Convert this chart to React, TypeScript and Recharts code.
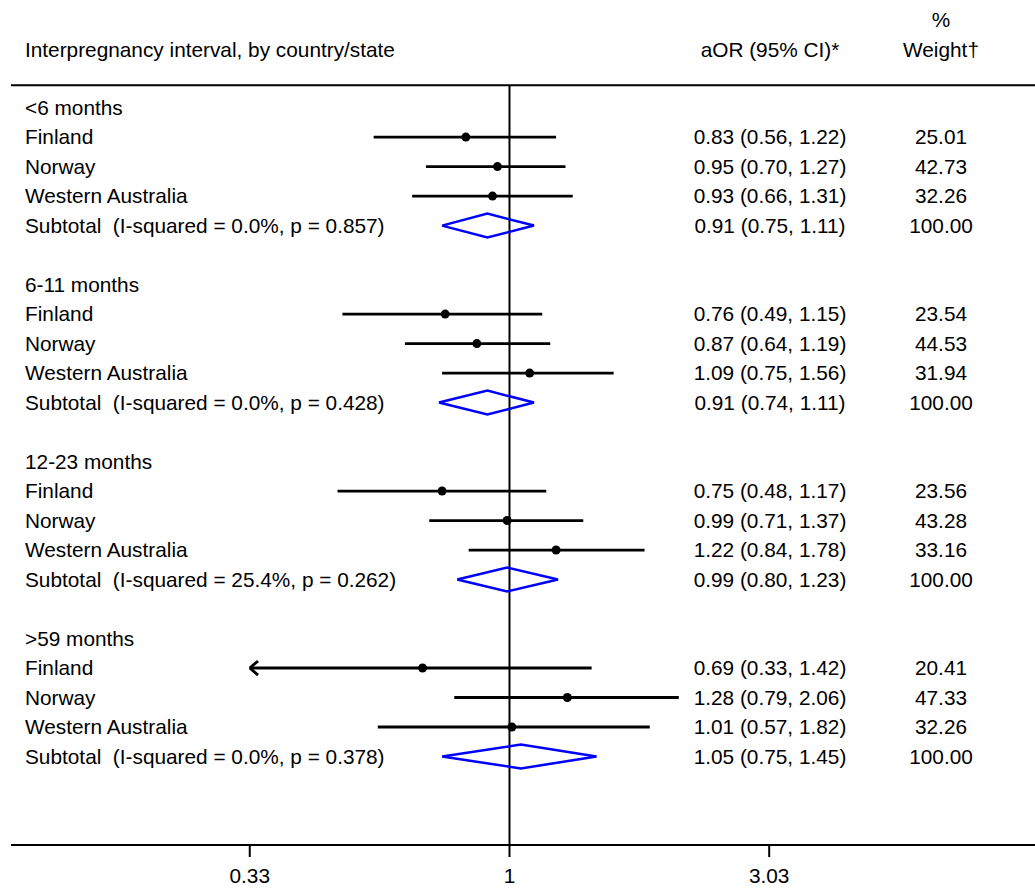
import { ComposedChart, XAxis, YAxis, Scatter, ReferenceLine } from "recharts";

const groups = ["<6 months", "6-11 months", "12-23 months", ">59 months"];
const studies = ["Finland", "Norway", "Western Australia"];

const studyAor = [
  [0.83, 0.95, 0.93],
  [0.76, 0.87, 1.09],
  [0.75, 0.99, 1.22],
  [0.69, 1.28, 1.01],
];
const studyLower = [
  [0.56, 0.7, 0.66],
  [0.49, 0.64, 0.75],
  [0.48, 0.71, 0.84],
  [0.33, 0.79, 0.57],
];
const studyUpper = [
  [1.22, 1.27, 1.31],
  [1.15, 1.19, 1.56],
  [1.17, 1.37, 1.78],
  [1.42, 2.06, 1.82],
];
const studyWeight = [
  ["25.01", "42.73", "32.26"],
  ["23.54", "44.53", "31.94"],
  ["23.56", "43.28", "33.16"],
  ["20.41", "47.33", "32.26"],
];

const subtotalAor = [0.91, 0.91, 0.99, 1.05];
const subtotalLower = [0.75, 0.74, 0.8, 0.75];
const subtotalUpper = [1.11, 1.11, 1.23, 1.45];
const heterogeneity = [
  "I-squared = 0.0%, p = 0.857",
  "I-squared = 0.0%, p = 0.428",
  "I-squared = 25.4%, p = 0.262",
  "I-squared = 0.0%, p = 0.378",
];

const xTicks = [0.33, 1, 3.03];

// layout (rows are in "row units", one per printed line)
const X_DOMAIN = [0.1191, 9.423];
const Y_DOMAIN = [-3.648, 25];
const HEADER_LINE_ROW = -0.76;
const DIAMOND_HALF = 0.405;
const ARROW_DX = 1.036;
const ARROW_DY = 0.24;
const FONT = 20.8;
const LABEL_X = 25;
const AOR_X = 770;
const WEIGHT_X = 941;

const f2 = (v: number) => v.toFixed(2);
const ciText = (e: number, l: number, u: number) => `${f2(e)} (${f2(l)}, ${f2(u)})`;

type Row = { y: number; label?: string; aor?: string; weight?: string };

const rows: Row[] = [
  { y: -2.97, weight: "%" },
  { y: -1.95, label: "Interpregnancy interval, by country/state", aor: "aOR (95% CI)*", weight: "Weight†" },
];
const studyPoints: { x: number; y: number; lo: number; hi: number }[] = [];
const diamonds: { x: number; y: number }[][] = [];

groups.forEach((g, gi) => {
  const base = gi * 6;
  rows.push({ y: base, label: g });
  studies.forEach((s, si) => {
    const y = base + 1 + si;
    const e = studyAor[gi][si];
    const lo = studyLower[gi][si];
    const hi = studyUpper[gi][si];
    rows.push({ y, label: s, aor: ciText(e, lo, hi), weight: studyWeight[gi][si] });
    studyPoints.push({ x: e, y, lo, hi });
  });
  const ys = base + 4;
  const e = subtotalAor[gi];
  const lo = subtotalLower[gi];
  const hi = subtotalUpper[gi];
  rows.push({ y: ys, label: `Subtotal  (${heterogeneity[gi]})`, aor: ciText(e, lo, hi), weight: "100.00" });
  diamonds.push([
    { x: lo, y: ys },
    { x: e, y: ys - DIAMOND_HALF },
    { x: hi, y: ys },
    { x: e, y: ys + DIAMOND_HALF },
    { x: lo, y: ys },
  ]);
});

function findRow(v: number) {
  return rows.find((r) => Math.abs(r.y - v) < 1e-6);
}

function YTick(props: any) {
  const { y, payload } = props;
  const r = findRow(Number(payload?.value));
  if (!r) return <g />;
  return (
    <g>
      {r.label && (
        <text x={LABEL_X} y={y} dy="0.35em" fontSize={FONT} fill="#000" style={{ whiteSpace: "pre" }}>
          {r.label}
        </text>
      )}
      {r.aor && (
        <text x={AOR_X} y={y} dy="0.35em" textAnchor="middle" fontSize={FONT} fill="#000">
          {r.aor}
        </text>
      )}
      {r.weight && (
        <text x={WEIGHT_X} y={y} dy="0.35em" textAnchor="middle" fontSize={FONT} fill="#000">
          {r.weight}
        </text>
      )}
    </g>
  );
}

function XTick({ x, y, payload }: any) {
  return (
    <text x={x} y={y} dy={26} textAnchor="middle" fontSize={FONT} fill="#000">
      {payload.value}
    </text>
  );
}

export default function App() {
  return (
    <div
      style={{
        position: "absolute",
        left: 0,
        top: 0,
        width: 1035,
        height: 889,
        background: "#fff",
        fontFamily: "'Liberation Sans', Arial, sans-serif",
      }}
    >
      <ComposedChart width={1035} height={889} margin={{ top: 0, right: 0, bottom: 0, left: 10 }}>
        <XAxis
          dataKey="x"
          type="number"
          scale="log"
          domain={X_DOMAIN}
          allowDataOverflow
          ticks={xTicks}
          interval={0}
          height={44}
          tickSize={12}
          tickMargin={0}
          axisLine={{ stroke: "#000", strokeWidth: 2 }}
          tickLine={{ stroke: "#000", strokeWidth: 2 }}
          tick={<XTick />}
        />
        <YAxis
          dataKey="y"
          type="number"
          domain={Y_DOMAIN}
          allowDataOverflow
          reversed
          ticks={rows.map((r) => r.y)}
          interval={0}
          width={1}
          axisLine={false}
          tickLine={false}
          tick={YTick}
        />
        <ReferenceLine y={HEADER_LINE_ROW} stroke="#000" strokeWidth={2} />
        <ReferenceLine
          segment={[
            { x: 1, y: HEADER_LINE_ROW },
            { x: 1, y: Y_DOMAIN[1] },
          ]}
          stroke="#000"
          strokeWidth={2}
        />
        {studyPoints.map((p, i) => (
          <ReferenceLine
            key={`ci${i}`}
            segment={[
              { x: Math.max(p.lo, xTicks[0]), y: p.y },
              { x: p.hi, y: p.y },
            ]}
            stroke="#000"
            strokeWidth={2.8}
          />
        ))}
        {studyPoints
          .filter((p) => p.lo <= xTicks[0])
          .flatMap((p, i) => [
            <ReferenceLine
              key={`au${i}`}
              segment={[
                { x: xTicks[0], y: p.y },
                { x: xTicks[0] * ARROW_DX, y: p.y - ARROW_DY },
              ]}
              stroke="#000"
              strokeWidth={2.8}
            />,
            <ReferenceLine
              key={`ad${i}`}
              segment={[
                { x: xTicks[0], y: p.y },
                { x: xTicks[0] * ARROW_DX, y: p.y + ARROW_DY },
              ]}
              stroke="#000"
              strokeWidth={2.8}
            />,
          ])}
        {diamonds.map((d, i) => (
          <Scatter
            key={`dm${i}`}
            data={d}
            fill="#0000ff"
            line={{ stroke: "#0000ff", strokeWidth: 2.5, strokeLinejoin: "miter" }}
            lineType="joint"
            shape={() => <g />}
            isAnimationActive={false}
          />
        ))}
        <Scatter
          data={studyPoints}
          fill="#000"
          shape={(p: any) => <circle cx={p.cx} cy={p.cy} r={4.5} fill="#000" />}
          isAnimationActive={false}
        />
      </ComposedChart>
    </div>
  );
}
